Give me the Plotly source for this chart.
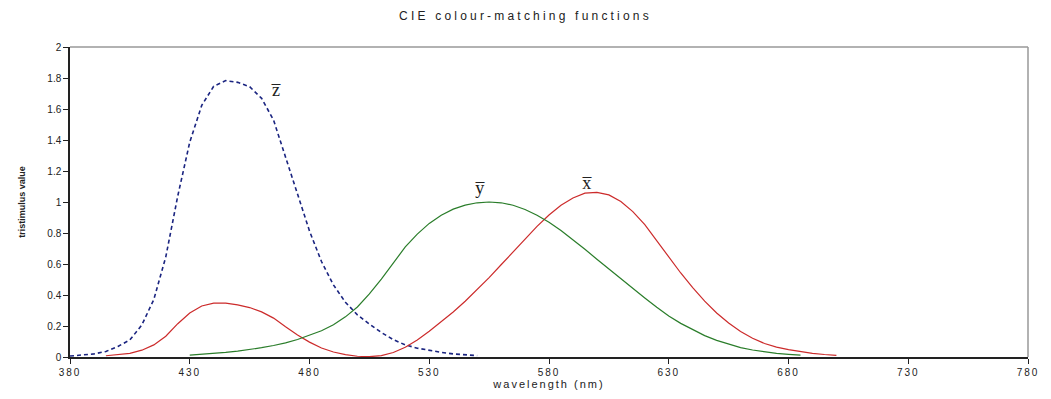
import plotly.graph_objects as go

# CIE colour-matching functions (5 nm steps)
wl_x = list(range(395, 705, 5))
x_bar = [0.008, 0.014, 0.023, 0.044, 0.078, 0.134, 0.215, 0.284, 0.329, 0.348, 0.348,
         0.336, 0.319, 0.291, 0.251, 0.195, 0.142, 0.096, 0.058, 0.032, 0.015, 0.005,
         0.002, 0.009, 0.029, 0.063, 0.110, 0.166, 0.226, 0.290, 0.360, 0.433, 0.512,
         0.595, 0.678, 0.762, 0.843, 0.916, 0.979, 1.026, 1.057, 1.062, 1.046, 1.003,
         0.938, 0.854, 0.751, 0.642, 0.542, 0.448, 0.361, 0.284, 0.219, 0.165, 0.121,
         0.087, 0.064, 0.047, 0.033, 0.023, 0.016, 0.011]

wl_y = list(range(430, 690, 5))
y_bar = [0.012, 0.017, 0.023, 0.030, 0.038, 0.048, 0.060, 0.074, 0.091, 0.113, 0.139,
         0.169, 0.208, 0.259, 0.323, 0.407, 0.503, 0.608, 0.710, 0.793, 0.862, 0.915,
         0.954, 0.980, 0.995, 1.000, 0.995, 0.979, 0.952, 0.915, 0.870, 0.816, 0.757,
         0.695, 0.631, 0.567, 0.503, 0.441, 0.381, 0.321, 0.265, 0.217, 0.175, 0.138,
         0.107, 0.082, 0.061, 0.045, 0.032, 0.023, 0.017, 0.012]

wl_z = list(range(380, 555, 5))
z_bar = [0.006, 0.011, 0.020, 0.036, 0.068, 0.110, 0.207, 0.371, 0.646, 1.039, 1.386,
         1.623, 1.747, 1.783, 1.772, 1.744, 1.669, 1.528, 1.288, 1.042, 0.813, 0.616,
         0.465, 0.353, 0.272, 0.212, 0.158, 0.112, 0.078, 0.057, 0.042, 0.030, 0.020,
         0.013, 0.009]

x_ticks = [380, 430, 480, 530, 580, 630, 680, 730, 780]
y_ticks = [0, 0.2, 0.4, 0.6, 0.8, 1, 1.2, 1.4, 1.6, 1.8, 2]

labels = ["z\u0305", "y\u0305", "x\u0305"]
label_wl = [466, 551, 596]
label_val = [1.72, 1.09, 1.12]

SP = '<span style="letter-spacing:%s">%s</span>'

fig = go.Figure()
fig.add_trace(go.Scatter(x=wl_z, y=z_bar, mode="lines",
                         line=dict(color="#1a2480", width=1.6, dash="4px,3px")))
fig.add_trace(go.Scatter(x=wl_x, y=x_bar, mode="lines",
                         line=dict(color="#cc2b2b", width=1.2)))
fig.add_trace(go.Scatter(x=wl_y, y=y_bar, mode="lines",
                         line=dict(color="#2a7d2a", width=1.2)))

for t, lx, ly in zip(labels, label_wl, label_val):
    fig.add_annotation(x=lx, y=ly, text=t, showarrow=False,
                       font=dict(family="Liberation Serif, DejaVu Serif", size=18, color="#222"))

tickfont = dict(family="Liberation Sans, Arial", size=10, color="#222")
fig.update_xaxes(range=[380, 780], tickvals=x_ticks,
                 ticktext=[SP % ("2px", str(v)) for v in x_ticks],
                 ticklabeloverflow="allow",
                 showgrid=False, zeroline=False, showline=True, linecolor="#222",
                 linewidth=1.5, ticks="outside", ticklen=5, tickcolor="#222",
                 tickfont=tickfont,
                 title=dict(text=SP % ("2px", "wavelength (nm)"),
                            font=dict(family="Liberation Sans, Arial", size=11, color="#222"),
                            standoff=2))
fig.update_yaxes(range=[0, 2], tickvals=y_ticks, ticktext=[("%g" % v) for v in y_ticks],
                 showgrid=False, zeroline=False, showline=True, linecolor="#222",
                 linewidth=1.5, ticks="outside", ticklen=5, tickcolor="#222",
                 tickfont=tickfont,
                 title=dict(text="<b>tristimulus value</b>",
                            font=dict(family="Liberation Sans, Arial", size=9, color="#222"),
                            standoff=20))

# top and right frame lines
fig.add_shape(type="line", xref="paper", yref="paper", x0=0, x1=1, y0=1, y1=1,
              line=dict(color="#999", width=1.5))
fig.add_shape(type="line", xref="paper", yref="paper", x0=1, x1=1, y0=0, y1=1,
              line=dict(color="#999", width=1.5))

fig.update_layout(
    width=1051, height=399,
    margin=dict(l=70, r=14, t=47, b=37),
    paper_bgcolor="white", plot_bgcolor="white",
    showlegend=False,
    title=dict(text=SP % ("3.2px", "CIE colour-matching functions"), x=0.5, xanchor="center",
               y=1 - 16 / 399, yanchor="middle", yref="container",
               font=dict(family="Liberation Sans, Arial", size=12, color="#222")),
)

fig.write_html("out.html")
